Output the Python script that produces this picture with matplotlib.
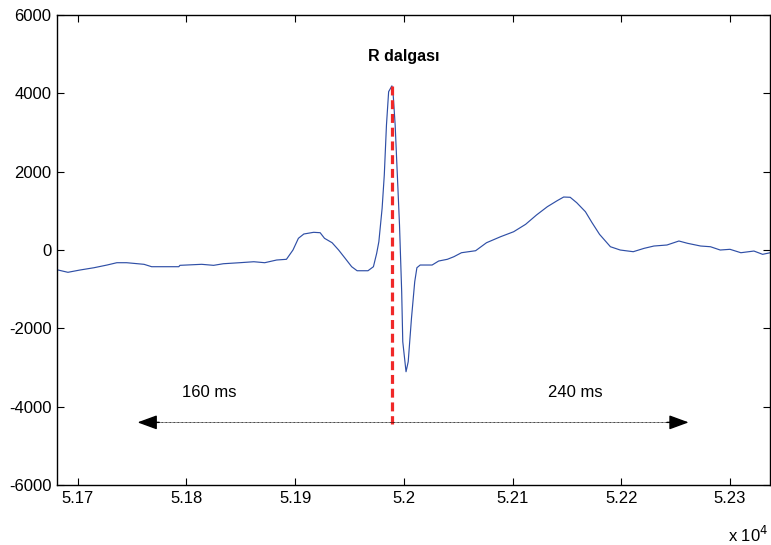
import matplotlib
matplotlib.use('Agg')
import matplotlib.pyplot as plt
from matplotlib.ticker import FuncFormatter

plt.rcParams['font.family'] = ['Liberation Sans', 'DejaVu Sans']
plt.rcParams['axes.unicode_minus'] = False

# ECG segment around one beat (sample index, amplitude)
samples = [51678, 51691, 51702, 51715, 51727, 51736, 51745, 51761, 51768, 51793,
           51794, 51814, 51825, 51834, 51849, 51862, 51872, 51883, 51892, 51898,
           51903, 51908, 51917, 51923, 51927, 51934, 51940, 51946, 51952, 51957,
           51967, 51972, 51975, 51977, 51980, 51982, 51984, 51986, 51989, 51990,
           51992, 51994, 51996, 51998, 51999, 52002, 52004, 52007, 52010, 52012,
           52015, 52026, 52032, 52040, 52046, 52053, 52066, 52076, 52089, 52101,
           52112, 52122, 52132, 52141, 52147, 52153, 52159, 52167, 52173, 52180,
           52190, 52199, 52211, 52221, 52230, 52242, 52253, 52261, 52273, 52282,
           52291, 52300, 52310, 52322, 52330, 52337, 52341]
amplitude = [-485, -569, -511, -452, -383, -324, -324, -365, -426, -426,
             -391, -365, -391, -350, -324, -299, -324, -255, -237, 0,
             299, 409, 452, 442, 299, 186, 0, -212, -426, -529,
             -529, -426, -84, 212, 1065, 1915, 3191, 4042, 4190, 4042,
             3191, 1915, 638, -1065, -2341, -3107, -2852, -1744, -809, -452,
             -383, -383, -281, -237, -171, -69, -18, 186, 340, 467,
             656, 894, 1106, 1259, 1353, 1346, 1208, 978, 702, 400,
             84, 0, -43, 43, 102, 128, 230, 171, 102, 84,
             0, 18, -69, -26, -110, -69, -51]

r_peak = 51989
r_peak_value = 4190
interval_left = 51755
interval_right = 52262
interval_y = -4400

xticks = [51700, 51800, 51900, 52000, 52100, 52200, 52300]
yticks = [-6000, -4000, -2000, 0, 2000, 4000, 6000]

fig = plt.figure(figsize=(7.71, 5.45), dpi=100)
ax = fig.add_axes([0.074, 0.110, 0.925, 0.8625])

ax.plot(samples, amplitude, color='#2f4fa6', linewidth=0.85)

# R wave marker
ax.plot([r_peak, r_peak], [r_peak_value, -4450], color='#f02828',
        linewidth=2.3, linestyle=(0, (2.8, 1.5)))
ax.text(52000, 4930, 'R dalgası', ha='center', va='center',
        fontsize=11.5, fontweight='bold')

# interval arrow
ax.plot([interval_left + 12, interval_right - 12], [interval_y, interval_y],
        color='black', linewidth=0.6, linestyle=(0, (1, 0.6)))
for tip, tail in [(interval_left, interval_left + 20), (interval_right, interval_right - 20)]:
    ax.annotate('', xy=(tip, interval_y), xytext=(tail, interval_y),
                arrowprops=dict(arrowstyle='-|>,head_length=0.6,head_width=0.22',
                                color='black', mutation_scale=20, shrinkA=0, shrinkB=0))
ax.text(51821, -3630, '160 ms', ha='center', va='center', fontsize=12)
ax.text(52158, -3630, '240 ms', ha='center', va='center', fontsize=12)

ax.set_xlim(51681, 52337)
ax.set_ylim(-6000, 6000)
ax.set_xticks(xticks)
ax.set_yticks(yticks)
ax.xaxis.set_major_formatter(FuncFormatter(lambda v, p: f'{v / 1e4:g}'))
ax.tick_params(direction='in', length=5, width=0.8, labelsize=12,
               top=True, right=True, pad=4)
for s in ax.spines.values():
    s.set_linewidth(1.0)

fig.text(0.997, 0.018, 'x 10$^4$', fontsize=12, ha='right', va='center')

fig.savefig('out.png', dpi=100)
